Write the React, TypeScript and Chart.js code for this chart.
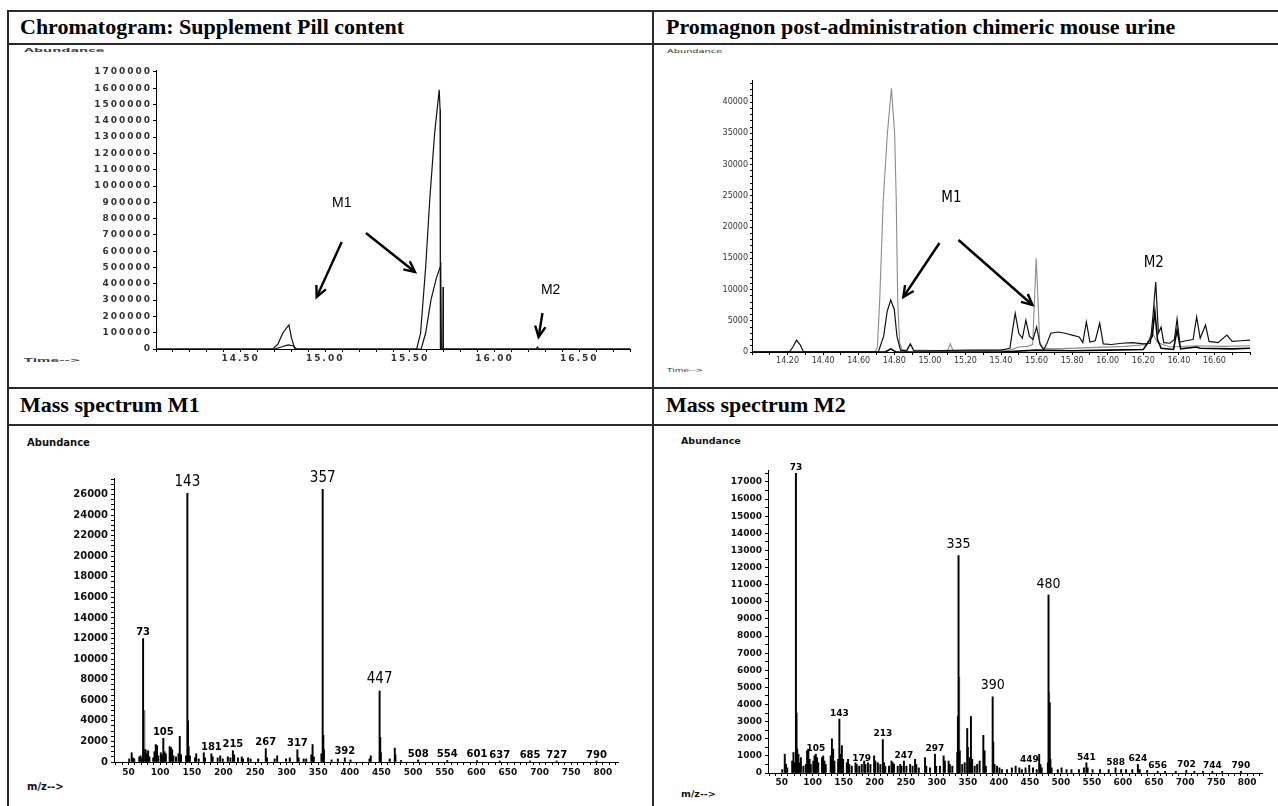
import React, { useEffect, useRef } from 'react';
import { Chart, registerables } from 'chart.js';

Chart.register(...registerables);
Chart.defaults.font.family = 'DejaVu Sans';

// ================= Chromatogram: Supplement Pill content =================
const PILL_TRACE_A: [number, number][] = [
  [14.0, 0], [14.69, 0], [14.72, 30000], [14.75, 100000], [14.785, 148000], [14.8, 70000], [14.82, 0],
  [15.54, 0], [15.563, 98000], [15.593, 503000], [15.617, 914000], [15.646, 1325000], [15.673, 1590000],
  [15.678, 1470000], [15.68, 0], [16.245, 0], [16.254, 12000], [16.262, 0], [16.8, 0],
];
const PILL_TRACE_B: [number, number][] = [
  [14.0, 0], [14.7, 0], [14.74, 12000], [14.78, 25000], [14.81, 20000], [14.83, 0],
  [15.566, 0], [15.593, 98000], [15.624, 300000], [15.655, 430000], [15.682, 515000], [15.686, 0], [16.8, 0],
];
const PILL_TRACE_C: [number, number][] = [[15.695, 0], [15.696, 380000], [15.697, 0]];
const PILL_X_LABELS = ['14.50', '15.00', '15.50', '16.00', '16.50'];
const PILL_Y_LABELS = ['0', '100000', '200000', '300000', '400000', '500000', '600000', '700000', '800000',
  '900000', '1000000', '1100000', '1200000', '1300000', '1400000', '1500000', '1600000', '1700000'];
const PILL_NOTES: [string, number, number][] = [['M1', 15.097, 895900], ['M2', 16.331, 362000]];
const PILL_ARROWS: [number, number, number, number][] = [
  [15.097, 656600, 14.949, 319100],
  [15.24, 711800, 15.53, 472500],
  [16.283, 220900, 16.26, 73600],
];

// ================= Promagnon post-administration chimeric mouse urine =================
const URINE_TRACE_GREY: [number, number][] = [
  [14.0, 0], [14.69, 0], [14.705, 800], [14.718, 8300], [14.738, 24300], [14.761, 34900], [14.784, 42200],
  [14.802, 34900], [14.811, 24300], [14.819, 8300], [14.83, 1500], [14.845, 300], [14.87, 300], [14.89, 1200],
  [14.91, 300], [15.1, 200], [15.115, 1300], [15.13, 200], [15.45, 300], [15.5, 800], [15.55, 900],
  [15.578, 1200], [15.598, 15000], [15.618, 1500], [15.64, 600], [15.7, 500], [15.9, 700], [16.1, 900],
  [16.22, 1200], [16.25, 3200], [16.28, 1500], [16.35, 800], [16.5, 1000], [16.65, 900], [16.8, 1000],
];
const URINE_TRACE_BLACK: [number, number][] = [
  [14.0, 0], [14.21, 0], [14.23, 800], [14.25, 1900], [14.27, 1200], [14.29, 0], [14.71, 0], [14.74, 2500],
  [14.76, 6500], [14.78, 8300], [14.8, 6800], [14.815, 2500], [14.835, 300], [14.87, 200], [14.89, 1300],
  [14.91, 200], [15.0, 200], [15.2, 300], [15.4, 300], [15.45, 600], [15.465, 3500], [15.48, 6200],
  [15.5, 3000], [15.52, 2200], [15.54, 5100], [15.56, 2500], [15.58, 2000], [15.6, 4000], [15.62, 1200],
  [15.64, 300], [15.66, 1500], [15.68, 3000], [15.72, 3200], [15.76, 3000], [15.8, 2700], [15.84, 2400],
  [15.86, 1500], [15.88, 4800], [15.9, 1600], [15.93, 1800], [15.955, 4600], [15.975, 1300], [16.02, 1200],
  [16.08, 1400], [16.14, 1500], [16.2, 1300], [16.24, 1400], [16.255, 6000], [16.27, 11200], [16.285, 3000],
  [16.3, 4000], [16.315, 1500], [16.35, 1400], [16.375, 2000], [16.39, 5300], [16.405, 1600], [16.44, 1800],
  [16.48, 2000], [16.5, 5600], [16.52, 2200], [16.55, 4300], [16.57, 1700], [16.62, 1500], [16.67, 2700],
  [16.7, 1700], [16.75, 1800], [16.8, 1900],
];
const URINE_TRACE_LOW: [number, number][] = [
  [14.0, 0], [14.75, 0], [14.78, 500], [14.81, 0], [15.4, 0], [15.6, 300], [15.8, 200], [16.0, 300],
  [16.2, 400], [16.25, 2500], [16.265, 6500], [16.28, 2000], [16.3, 600], [16.37, 400], [16.39, 3500],
  [16.41, 500], [16.5, 800], [16.52, 600], [16.7, 500], [16.8, 600],
];
const URINE_X_LABELS = ['14.20', '14.40', '14.60', '14.80', '15.00', '15.20', '15.40', '15.60', '15.80',
  '16.00', '16.20', '16.40', '16.60'];
const URINE_Y_LABELS = ['0', '5000', '10000', '15000', '20000', '25000', '30000', '35000', '40000'];
const URINE_NOTES: [string, number, number][] = [['M1', 15.121, 24640], ['M2', 16.259, 14240]];
const URINE_ARROWS: [number, number, number, number][] = [
  [15.054, 17440, 14.851, 8800],
  [15.161, 17920, 15.577, 7520],
];

// ================= Mass spectrum M1 =================
const M1_PEAKS: [number, number][] = [
  [51, 300], [55, 900], [57, 400], [59, 300], [67, 500], [69, 600], [71, 400], [73, 12000], [74, 1200],
  [77, 1200], [79, 800], [81, 1100], [83, 500], [89, 400], [91, 1000], [93, 1700], [95, 1600], [97, 600],
  [101, 900], [103, 700], [105, 2300], [107, 1000], [109, 800], [115, 1500], [117, 1400], [119, 1200],
  [121, 600], [125, 500], [129, 800], [131, 2500], [133, 700], [141, 600], [143, 26100], [144, 4000],
  [145, 1500], [147, 600], [155, 400], [157, 800], [161, 300], [169, 900], [171, 400], [181, 800],
  [183, 500], [191, 400], [195, 600], [199, 300], [207, 500], [211, 400], [215, 1100], [217, 700],
  [223, 400], [229, 500], [231, 300], [239, 400], [243, 300], [255, 300], [267, 1300], [269, 400],
  [281, 300], [285, 600], [299, 300], [305, 400], [317, 1200], [319, 400], [327, 300], [331, 300],
  [339, 700], [341, 1700], [343, 500], [355, 800], [357, 26500], [358, 2600], [359, 1200], [371, 200],
  [381, 300], [392, 400], [401, 200], [431, 300], [433, 600], [447, 6900], [448, 2400], [449, 900],
  [463, 300], [471, 1350], [472, 700], [481, 150], [508, 200], [554, 150], [601, 150], [637, 100],
  [685, 100], [727, 100], [790, 100],
];
const M1_PEAKS_GREY: [number, number][] = [[75, 5000]];
const M1_SMALL_LABELS = [73, 105, 181, 215, 267, 317, 392, 508, 554, 601, 637, 685, 727, 790];
const M1_BIG_LABELS = [143, 357, 447];
const M1_X_LABELS = ['50', '100', '150', '200', '250', '300', '350', '400', '450', '500', '550', '600',
  '650', '700', '750', '800'];
const M1_Y_LABELS = ['0', '2000', '4000', '6000', '8000', '10000', '12000', '14000', '16000', '18000',
  '20000', '22000', '24000', '26000'];

// ================= Mass spectrum M2 =================
const M2_PEAKS: [number, number][] = [
  [51, 200], [55, 1100], [57, 500], [59, 300], [67, 700], [69, 1200], [71, 600], [73, 17500], [74, 3500],
  [75, 1400], [77, 1100], [79, 600], [81, 900], [85, 400], [89, 500], [91, 1300], [93, 1400], [95, 800],
  [97, 500], [101, 700], [103, 1000], [105, 1100], [107, 900], [109, 600], [115, 900], [117, 1000],
  [119, 700], [121, 500], [129, 1000], [131, 2000], [133, 1400], [135, 700], [141, 800], [143, 3150],
  [145, 1100], [147, 1600], [149, 800], [155, 600], [157, 800], [159, 500], [163, 400], [169, 600],
  [171, 500], [175, 400], [179, 500], [183, 700], [185, 500], [189, 600], [193, 500], [199, 1000],
  [201, 700], [205, 600], [209, 500], [213, 1950], [215, 600], [217, 400], [223, 400], [227, 700],
  [229, 600], [231, 500], [237, 400], [241, 500], [243, 400], [247, 700], [251, 400], [257, 500],
  [261, 400], [265, 800], [267, 500], [271, 300], [281, 900], [283, 400], [289, 300], [297, 1100],
  [299, 400], [305, 400], [311, 1000], [313, 700], [319, 700], [321, 500], [325, 400], [333, 1200],
  [334, 3300], [335, 12700], [337, 1300], [341, 500], [345, 600], [349, 2600], [350, 1500], [353, 900],
  [355, 3300], [357, 800], [361, 400], [365, 500], [369, 700], [375, 2200], [377, 1300], [379, 400],
  [390, 4450], [391, 1800], [393, 500], [397, 400], [401, 300], [405, 200], [413, 200], [421, 300],
  [427, 400], [433, 300], [437, 200], [443, 300], [449, 450], [455, 300], [461, 200], [465, 1100],
  [467, 500], [469, 300], [479, 600], [480, 10400], [482, 4100], [483, 800], [485, 300], [495, 200],
  [501, 300], [509, 200], [517, 200], [529, 200], [537, 300], [541, 600], [543, 300], [551, 200],
  [563, 200], [577, 200], [588, 300], [597, 200], [605, 200], [615, 200], [624, 500], [627, 200],
  [639, 150], [656, 100], [668, 100], [685, 100], [702, 150], [715, 100], [729, 100], [744, 100],
  [760, 100], [790, 100],
];
const M2_PEAKS_GREY: [number, number][] = [[336, 5600], [481, 4700]];
const M2_SMALL_LABELS = [73, 105, 143, 179, 213, 247, 297, 449, 541, 588, 624, 656, 702, 744, 790];
const M2_BIG_LABELS = [335, 390, 480];
const M2_X_LABELS = ['50', '100', '150', '200', '250', '300', '350', '400', '450', '500', '550', '600',
  '650', '700', '750', '800'];
const M2_Y_LABELS = ['0', '1000', '2000', '3000', '4000', '5000', '6000', '7000', '8000', '9000', '10000',
  '11000', '12000', '13000', '14000', '15000', '16000', '17000'];

// ================= helpers =================
const seq = (a: number, b: number, s: number) => {
  const out: number[] = [];
  for (let i = 0; a + i * s <= b + 1e-9; i++) out.push(+(a + i * s).toFixed(6));
  return out;
};

function linAxis(o: any) {
  const labelVals = o.labels.map(Number);
  return {
    type: 'linear',
    min: o.min,
    max: o.max,
    offset: false,
    afterBuildTicks: (s: any) => {
      s.ticks = o.ticks.map((v: number) => ({ value: v }));
    },
    afterFit: (s: any) => {
      if (o.vertical) s.width = o.size;
      else s.height = o.size;
    },
    ticks: {
      autoSkip: false,
      maxRotation: 0,
      minRotation: 0,
      font: o.font,
      color: o.color,
      padding: o.pad,
      callback: (v: number) => {
        const i = labelVals.findIndex((l: number) => Math.abs(l - v) < 1e-6);
        return i >= 0 ? o.labels[i] : '';
      },
    },
    grid: {
      display: true,
      drawOnChartArea: false,
      drawTicks: true,
      tickLength: o.tickLen,
      color: '#000',
      lineWidth: 1,
      offset: false,
    },
    border: { display: true, color: '#000', width: 1 },
  };
}

function drawArrow(ctx: CanvasRenderingContext2D, x0: number, y0: number, x1: number, y1: number, head: number) {
  ctx.beginPath();
  ctx.moveTo(x0, y0);
  ctx.lineTo(x1, y1);
  ctx.stroke();
  const a = Math.atan2(y1 - y0, x1 - x0);
  ctx.beginPath();
  ctx.moveTo(x1 - head * Math.cos(a - 0.45), y1 - head * Math.sin(a - 0.45));
  ctx.lineTo(x1, y1);
  ctx.lineTo(x1 - head * Math.cos(a + 0.45), y1 - head * Math.sin(a + 0.45));
  ctx.stroke();
}

function notePlugin(notes: [string, number, number][], arrows: number[][], font: string, spacing: string) {
  return {
    id: 'notes',
    beforeDraw(chart: any) {
      (chart.ctx as any).letterSpacing = spacing;
    },
    afterDatasetsDraw(chart: any) {
      const { ctx } = chart;
      const xs = chart.scales.x;
      const ys = chart.scales.y;
      ctx.save();
      (ctx as any).letterSpacing = '0px';
      ctx.fillStyle = '#000';
      ctx.strokeStyle = '#000';
      ctx.lineWidth = 2.4;
      ctx.lineCap = 'butt';
      ctx.font = font;
      ctx.textAlign = 'center';
      ctx.textBaseline = 'middle';
      notes.forEach(([t, x, y]) => ctx.fillText(t, xs.getPixelForValue(x), ys.getPixelForValue(y)));
      arrows.forEach(([x0, y0, x1, y1]) =>
        drawArrow(ctx, xs.getPixelForValue(x0), ys.getPixelForValue(y0), xs.getPixelForValue(x1), ys.getPixelForValue(y1), 12)
      );
      ctx.restore();
    },
  };
}

function peakLabelPlugin(sets: [number, number][][], small: number[], big: number[], smallFont: string, bigFont: string) {
  const find = (mz: number) => {
    let v = 0;
    sets.forEach((s) => s.forEach(([m, a]) => { if (m === mz && a > v) v = a; }));
    return v;
  };
  return {
    id: 'peakLabels',
    afterDatasetsDraw(chart: any) {
      const { ctx } = chart;
      const xs = chart.scales.x;
      const ys = chart.scales.y;
      ctx.save();
      ctx.fillStyle = '#000';
      ctx.textAlign = 'center';
      ctx.textBaseline = 'bottom';
      ctx.font = smallFont;
      small.forEach((mz) => ctx.fillText(String(mz), xs.getPixelForValue(mz), ys.getPixelForValue(find(mz)) - 1));
      ctx.font = bigFont;
      big.forEach((mz) => ctx.fillText(String(mz), xs.getPixelForValue(mz), ys.getPixelForValue(find(mz)) - 4));
      ctx.restore();
    },
  };
}

const baseOptions = (padTop: number, padRight: number) => ({
  animation: false,
  responsive: false,
  maintainAspectRatio: false,
  devicePixelRatio: 1,
  events: [],
  layout: { padding: { top: padTop, right: padRight, left: 0, bottom: 0 } },
  plugins: { legend: { display: false }, tooltip: { enabled: false }, title: { display: false } },
});

const lineSet = (pts: [number, number][], color: string, width: number) => ({
  data: pts.map(([x, y]) => ({ x, y })),
  borderColor: color,
  borderWidth: width,
  pointRadius: 0,
  tension: 0,
  fill: false,
});

const barSet = (pts: [number, number][], color: string) => ({
  data: pts.map(([x, y]) => ({ x, y })),
  backgroundColor: color,
  borderWidth: 0,
  barThickness: 1.3,
  grouped: false,
});

// ================= chart builders =================
function buildPill(canvas: HTMLCanvasElement) {
  const tickFont = { family: 'DejaVu Sans', size: 9, weight: 'bold' };
  return new Chart(canvas as any, {
    type: 'line',
    data: {
      datasets: [
        lineSet(PILL_TRACE_A, '#111', 1.2),
        lineSet(PILL_TRACE_B, '#111', 1.2),
        lineSet(PILL_TRACE_C, '#111', 1.4),
      ],
    },
    options: {
      ...baseOptions(14, 10),
      scales: {
        x: linAxis({ min: 14.0, max: 16.8, ticks: seq(14.0, 16.8, 0.1), labels: PILL_X_LABELS, font: tickFont,
          color: '#333', size: 23, vertical: false, tickLen: 3, pad: 1 }),
        y: linAxis({ min: 0, max: 1712000, ticks: PILL_Y_LABELS.map(Number), labels: PILL_Y_LABELS, font: tickFont,
          color: '#333', size: 116, vertical: true, tickLen: 3, pad: 1 }),
      },
    } as any,
    plugins: [notePlugin(PILL_NOTES, PILL_ARROWS, '14px "Liberation Sans", Arial, sans-serif', '2px') as any],
  });
}

function buildUrine(canvas: HTMLCanvasElement) {
  const tickFont = { family: 'DejaVu Sans', size: 8 };
  return new Chart(canvas as any, {
    type: 'line',
    data: {
      datasets: [
        lineSet(URINE_TRACE_LOW, '#000', 1.6),
        lineSet(URINE_TRACE_BLACK, '#111', 1.2),
        lineSet(URINE_TRACE_GREY, '#8c8c8c', 1.1),
      ],
    },
    options: {
      ...baseOptions(20, 25),
      scales: {
        x: linAxis({ min: 14.0, max: 16.8, ticks: seq(14.0, 16.8, 0.1), labels: URINE_X_LABELS, font: tickFont,
          color: '#333', size: 26, vertical: false, tickLen: 3, pad: 1 }),
        y: linAxis({ min: 0, max: 43520, ticks: seq(0, 43000, 1000), labels: URINE_Y_LABELS, font: tickFont,
          color: '#333', size: 92, vertical: true, tickLen: 2, pad: 2 }),
      },
    } as any,
    plugins: [notePlugin(URINE_NOTES, URINE_ARROWS, '15px "Liberation Sans Narrow", "DejaVu Sans Condensed", sans-serif', '0px') as any],
  });
}

function buildSpectrum(canvas: HTMLCanvasElement, s: any) {
  return new Chart(canvas as any, {
    type: 'bar',
    data: { datasets: [barSet(s.black, '#000'), barSet(s.grey, '#777')] },
    options: {
      ...baseOptions(s.padTop, s.padRight),
      scales: {
        x: linAxis({ min: s.xMin, max: s.xMax, ticks: seq(30, 820, 10), labels: s.xLabels, font: s.xFont,
          color: '#111', size: s.xSize, vertical: false, tickLen: 3, pad: s.xPad }),
        y: linAxis({ min: 0, max: s.yMax, ticks: seq(0, s.yMax, 500), labels: s.yLabels, font: s.yFont,
          color: '#111', size: s.ySize, vertical: true, tickLen: 3, pad: 3 }),
      },
    } as any,
    plugins: [peakLabelPlugin([s.black, s.grey], s.small, s.big, s.smallFont, s.bigFont) as any],
  });
}

const buildM1 = (c: HTMLCanvasElement) =>
  buildSpectrum(c, {
    black: M1_PEAKS, grey: M1_PEAKS_GREY, small: M1_SMALL_LABELS, big: M1_BIG_LABELS,
    xLabels: M1_X_LABELS, yLabels: M1_Y_LABELS, xMin: 27, xMax: 824, yMax: 27600,
    padTop: 46, padRight: 20, xSize: 40, ySize: 102, xPad: 2,
    xFont: { family: 'DejaVu Sans', size: 9, weight: 'bold' },
    yFont: { family: 'DejaVu Sans', size: 10, weight: 'bold' },
    smallFont: 'bold 10px "DejaVu Sans"',
    bigFont: '15px "Liberation Sans Narrow", "DejaVu Sans Condensed", sans-serif',
  });

const buildM2 = (c: HTMLCanvasElement) =>
  buildSpectrum(c, {
    black: M2_PEAKS, grey: M2_PEAKS_GREY, small: M2_SMALL_LABELS, big: M2_BIG_LABELS,
    xLabels: M2_X_LABELS, yLabels: M2_Y_LABELS, xMin: 28, xMax: 824, yMax: 17700,
    padTop: 38, padRight: 13, xSize: 31, ySize: 108, xPad: 1,
    xFont: { family: 'DejaVu Sans', size: 9, weight: 'bold' },
    yFont: { family: 'DejaVu Sans', size: 9, weight: 'bold' },
    smallFont: 'bold 9px "DejaVu Sans"',
    bigFont: '14px "Liberation Sans Narrow", "DejaVu Sans Condensed", sans-serif',
  });

// ================= components =================
function ChartBox({ left, top, width, height, build }: any) {
  const ref = useRef<HTMLCanvasElement>(null);
  useEffect(() => {
    const chart = build(ref.current as HTMLCanvasElement);
    return () => chart.destroy();
  }, []);
  return (
    <canvas
      ref={ref}
      width={width}
      height={height}
      style={{ position: 'absolute', left, top, width, height, display: 'block' }}
    />
  );
}

function Txt({ x, y, text, font, sx = 1, sy = 1, color = '#000' }: any) {
  return (
    <div
      style={{
        position: 'absolute',
        left: x,
        top: y,
        font,
        color,
        whiteSpace: 'nowrap',
        lineHeight: 1,
        transform: `translateY(-50%) scale(${sx}, ${sy})`,
        transformOrigin: 'left center',
      }}
    >
      {text}
    </div>
  );
}

function Line({ x, y, w, h }: any) {
  return <div style={{ position: 'absolute', left: x, top: y, width: w, height: h, background: '#2b2b2b' }} />;
}

const TITLE_FONT = 'bold 22px "Liberation Serif", "Times New Roman", serif';

export default function App() {
  return (
    <div
      style={{
        position: 'absolute',
        left: 0,
        top: 0,
        width: 1278,
        height: 806,
        background: '#fff',
        overflow: 'hidden',
      }}
    >
      {/* table frame */}
      <Line x={7} y={10} w={1271} h={2} />
      <Line x={7} y={43} w={1271} h={2} />
      <Line x={7} y={387} w={1271} h={2} />
      <Line x={7} y={424} w={1271} h={2} />
      <Line x={7} y={10} w={2} h={796} />
      <Line x={652} y={10} w={2} h={796} />

      {/* titles */}
      <Txt x={20} y={27} text="Chromatogram: Supplement Pill content" font={TITLE_FONT} />
      <Txt x={666} y={27} text="Promagnon post-administration chimeric mouse urine" font={TITLE_FONT} />
      <Txt x={20} y={405} text="Mass spectrum M1" font={TITLE_FONT} />
      <Txt x={666} y={405} text="Mass spectrum M2" font={TITLE_FONT} />

      {/* axis captions */}
      <Txt x={24} y={51} text="Abundance" font='bold 8px "DejaVu Sans"' sx={1.6} sy={0.6} color="#444" />
      <Txt x={24} y={361} text="Time-->" font='bold 8px "DejaVu Sans"' sx={1.6} sy={0.6} color="#444" />
      <Txt x={667} y={52} text="Abundance" font='7px "DejaVu Sans"' sx={1.4} sy={0.8} color="#333" />
      <Txt x={667} y={371} text="Time-->" font='7px "DejaVu Sans"' sx={1.28} sy={0.8} color="#333" />
      <Txt x={27} y={443} text="Abundance" font='bold 10px "DejaVu Sans"' color="#111" />
      <Txt x={27} y={787} text="m/z-->" font='bold 10px "DejaVu Sans"' color="#111" />
      <Txt x={681} y={441} text="Abundance" font='bold 9.5px "DejaVu Sans"' color="#111" />
      <Txt x={681} y={794} text="m/z-->" font='bold 9.5px "DejaVu Sans"' color="#111" />

      {/* charts */}
      <ChartBox left={40} top={56} width={600} height={316} build={buildPill} />
      <ChartBox left={660} top={60} width={615} height={318} build={buildUrine} />
      <ChartBox left={12} top={432} width={626} height={370} build={buildM1} />
      <ChartBox left={660} top={432} width={615} height={372} build={buildM2} />
    </div>
  );
}
